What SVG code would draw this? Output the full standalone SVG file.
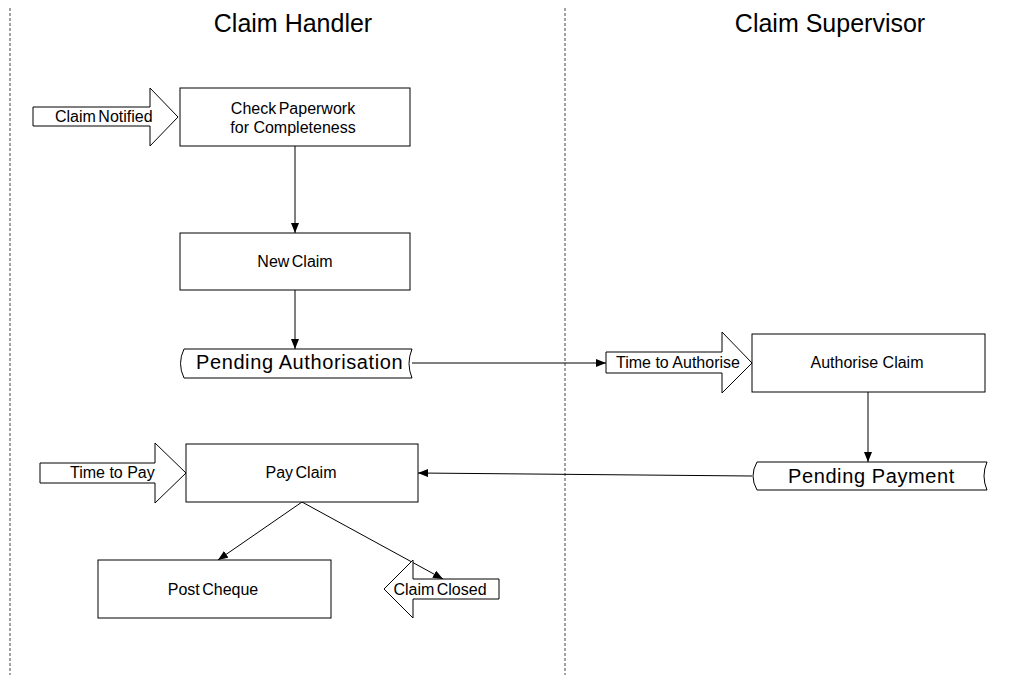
<svg xmlns="http://www.w3.org/2000/svg" width="1017" height="675" viewBox="0 0 1017 675">
  <style>
    .box { fill: #fff; stroke: #000; stroke-width: 1; }
    .lane { stroke: #444; stroke-width: 1; stroke-dasharray: 3 2; fill: none; }
    .conn { stroke: #000; stroke-width: 1; fill: none; marker-end: url(#arr); }
    .t { font-family: "Liberation Sans", Arial, sans-serif; font-size: 16px; fill: #000; }
    .tight { word-spacing: -2px; }
    .mid { text-anchor: middle; }
    .big { font-family: "Liberation Sans", Arial, sans-serif; font-size: 20px; letter-spacing: 0.6px; fill: #000; }
    .title { font-family: "Liberation Sans", Arial, sans-serif; font-size: 25px; fill: #000; text-anchor: middle; }
  </style>
  <defs>
    <marker id="arr" viewBox="0 0 10 8" refX="10" refY="4" markerWidth="10" markerHeight="8" markerUnits="userSpaceOnUse" orient="auto">
      <path d="M0,0 L10,4 L0,8 Z" fill="#000"/>
    </marker>
  </defs>

  <rect width="1017" height="675" fill="#fff"/>

  <!-- swimlanes -->
  <g id="lanes">
    <line class="lane" x1="10" y1="8" x2="10" y2="675"/>
    <line class="lane" x1="565" y1="8" x2="565" y2="675"/>
    <text class="title" x="293" y="32">Claim Handler</text>
    <text class="title" x="830" y="32">Claim Supervisor</text>
  </g>

  <!-- connectors -->
  <g id="connectors">
    <line class="conn" x1="295" y1="146" x2="295" y2="233"/>
    <line class="conn" x1="295" y1="290" x2="295" y2="349"/>
    <line class="conn" x1="412" y1="363" x2="606" y2="363"/>
    <line class="conn" x1="868" y1="392" x2="868" y2="462"/>
    <line class="conn" x1="752" y1="476" x2="418" y2="473"/>
    <line class="conn" x1="302" y1="502" x2="218" y2="560"/>
    <line class="conn" x1="302" y1="502" x2="443" y2="579"/>
  </g>

  <!-- events -->
  <g id="claim-notified">
    <path class="box" d="M33,107 H150 V88 L178,117 L150,146 V126 H33 Z"/>
    <text class="t tight" x="55" y="122">Claim Notified</text>
  </g>
  <g id="time-to-authorise">
    <path class="box" d="M606,352 H722 V332 L752,363 L722,393 V373 H606 Z"/>
    <text class="t" x="616" y="368">Time to Authorise</text>
  </g>
  <g id="time-to-pay">
    <path class="box" d="M40,463 H155 V443 L186,473 L155,503 V483 H40 Z"/>
    <text class="t" x="70" y="478">Time to Pay</text>
  </g>
  <g id="claim-closed">
    <path class="box" d="M499,579 H413 V560 L384,589 L413,618 V599 H499 Z"/>
    <text class="t tight mid" x="440" y="595">Claim Closed</text>
  </g>

  <!-- tasks -->
  <g id="check-paperwork">
    <rect class="box" x="180" y="88" width="230" height="58"/>
    <text class="t tight mid" x="293" y="114">Check Paperwork</text>
    <text class="t mid" x="293" y="133">for Completeness</text>
  </g>
  <g id="new-claim">
    <rect class="box" x="180" y="233" width="230" height="57"/>
    <text class="t tight mid" x="295" y="267">New Claim</text>
  </g>
  <g id="authorise-claim">
    <rect class="box" x="752" y="334" width="233" height="58"/>
    <text class="t mid" x="867" y="368">Authorise Claim</text>
  </g>
  <g id="pay-claim">
    <rect class="box" x="186" y="444" width="232" height="58"/>
    <text class="t tight mid" x="301" y="478">Pay Claim</text>
  </g>
  <g id="post-cheque">
    <rect class="box" x="98" y="560" width="233" height="58"/>
    <text class="t tight mid" x="213" y="595">Post Cheque</text>
  </g>

  <!-- states -->
  <g id="pending-authorisation">
    <path class="box" d="M184,349 H412 Q406,363.5 412,378 H184 Q177,363.5 184,349 Z"/>
    <text class="big" x="196" y="369">Pending Authorisation</text>
  </g>
  <g id="pending-payment">
    <path class="box" d="M757,462 H987 Q981,476 987,490 H757 Q749,476 757,462 Z"/>
    <text class="big" x="788" y="483">Pending Payment</text>
  </g>
</svg>
